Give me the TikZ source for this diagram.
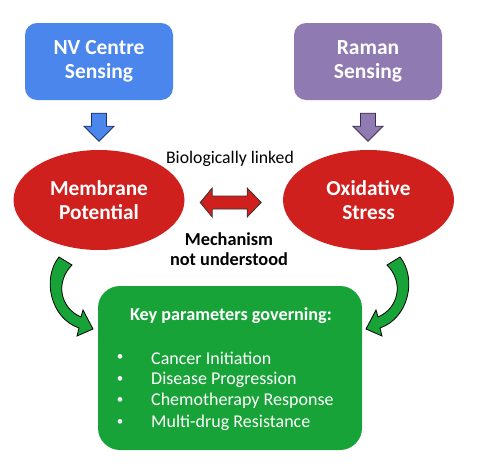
\documentclass[tikz,border=0pt]{standalone}
\usepackage{fontspec}
\setmainfont{Carlito}
\usetikzlibrary{shapes.geometric}
\definecolor{nvblue}{RGB}{74,134,235}
\definecolor{rpurple}{RGB}{143,122,178}
\definecolor{ellred}{RGB}{208,32,30}
\definecolor{kgreen}{RGB}{24,163,56}
\definecolor{navy}{RGB}{30,50,100}
\definecolor{dpurple}{RGB}{60,45,80}
\tikzset{
  sensebox/.style={rectangle, rounded corners=12pt, minimum width=148pt, minimum height=77pt,
    align=center, text=white, font=\bfseries\fontsize{21.5}{24}\selectfont, inner sep=0pt},
  redell/.style={ellipse, fill=ellred, minimum width=171pt, minimum height=100pt, inner sep=0pt,
    align=center, text=white, font=\bfseries\fontsize{21.3}{24}\selectfont},
  blockarrow/.style={line width=0.8pt, line join=miter},
  garrow/.style={fill=kgreen, draw=black, line width=0.8pt, line join=miter},
  itemtext/.style={anchor=west, text=white, font=\fontsize{18}{21}\selectfont, inner sep=0pt},
  bullet/.style={text=white, font=\fontsize{13}{16}\selectfont, inner sep=0pt}
}
\begin{document}
\begin{tikzpicture}[x=1pt,y=-1pt]
\fill[white] (0,0) rectangle (480,469);
\useasboundingbox (0,0) rectangle (480,469);

\node[sensebox, fill=nvblue] (nv) at (99,61.5) {NV Centre\\Sensing};
\node[sensebox, fill=rpurple] (rm) at (368,61.5) {Raman\\Sensing};

\node[redell] (mp) at (99,200) {Membrane\\Potential};
\node[redell] (os) at (368.5,200) {Oxidative\\Stress};

% down arrows
\draw[blockarrow, fill=nvblue, draw=navy] ([shift={(-7.5,13)}]nv.south) -- ++(15,0) -- ++(0,13) -- ++(7.5,0)
  -- ++(-15,15) -- ++(-15,-15) -- ++(7.5,0) -- cycle;
\draw[blockarrow, fill=rpurple, draw=dpurple] ([shift={(-7.5,13)}]rm.south) -- ++(15,0) -- ++(0,13) -- ++(7.5,0)
  -- ++(-15,15) -- ++(-15,-15) -- ++(7.5,0) -- cycle;

% double arrow
\draw[blockarrow, fill=ellred, draw=black!80] ([shift={(15.5,2.5)}]mp.east) -- ++(12,-14.5) -- ++(0,8) -- ++(35,0)
  -- ++(0,-8) -- ++(14,14.5) -- ++(-14,14.5) -- ++(0,-8) -- ++(-35,0) -- ++(0,8) -- cycle;

\node[font=\fontsize{17.7}{20}\selectfont, inner sep=0pt] (bl) at (230,159) {Biologically linked};
\node[font=\bfseries\fontsize{18.3}{20.5}\selectfont, align=center, inner sep=0pt] (mech) at (229,249) {Mechanism\\not understood};

% green box
\node[rectangle, fill=kgreen, rounded corners=22pt, minimum width=264pt, minimum height=164pt] (kp) at (230,368) {};
\node[text=white, font=\bfseries\fontsize{18.2}{20}\selectfont, inner sep=0pt] (kt) at (231,316) {Key parameters governing:};
\node[bullet] (b1) at (120,358) {\textbullet};
\node[bullet] (b2) at (120,380) {\textbullet};
\node[bullet] (b3) at (120,401) {\textbullet};
\node[bullet] (b4) at (120,423) {\textbullet};
\node[itemtext] (i1) at (151,358) {Cancer Initiation};
\node[itemtext] (i2) at (151,380) {Disease Progression};
\node[itemtext] (i3) at (151,401) {Chemotherapy Response};
\node[itemtext] (i4) at (151,423) {Multi-drug Resistance};

% curved green arrows
\draw[garrow] (59,257) .. controls (42,278) and (50,318) .. (79,328) -- (77,336) -- (93,329) -- (83,310)
  -- (81,317) .. controls (60,308) and (55,282) .. (72,265) -- cycle;
\draw[garrow] (400,257) .. controls (417,278) and (409,318) .. (380,328) -- (382,336) -- (366,329) -- (376,310)
  -- (378,317) .. controls (399,308) and (404,282) .. (387,265) -- cycle;
\end{tikzpicture}
\end{document}
